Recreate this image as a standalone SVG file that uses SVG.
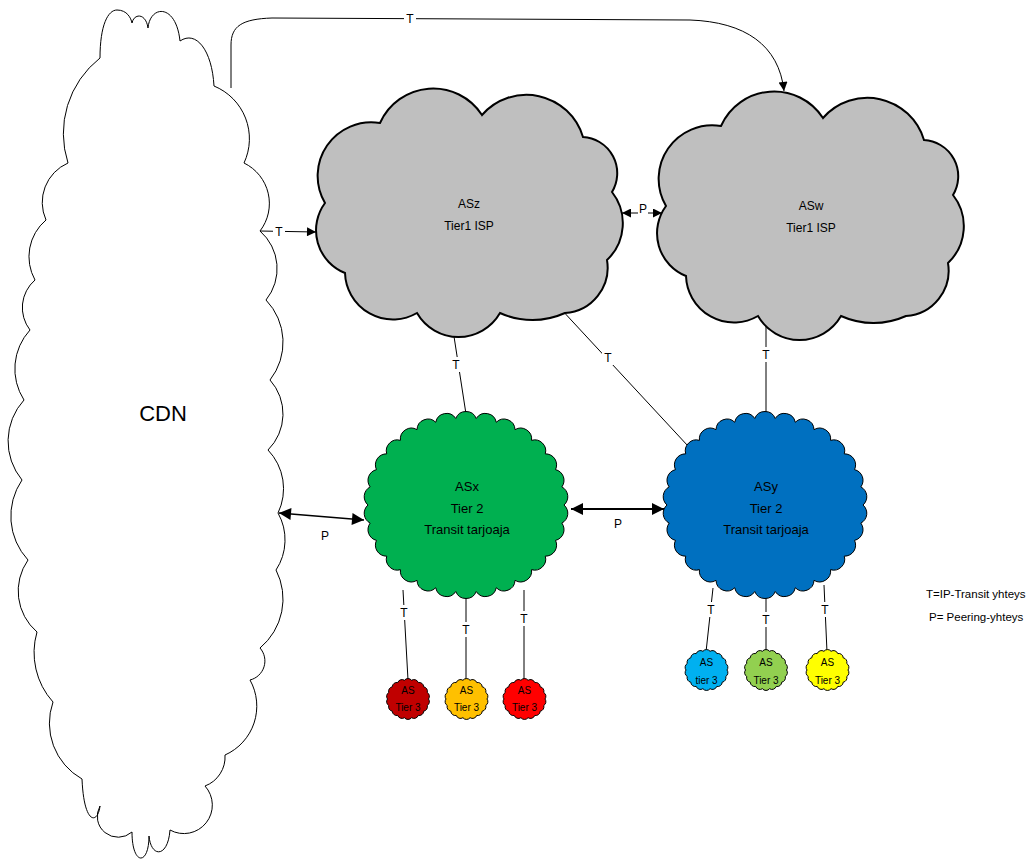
<svg xmlns="http://www.w3.org/2000/svg" xmlns:xlink="http://www.w3.org/1999/xlink" width="1030" height="862" viewBox="0 0 1030 862">
  <style>
    text { font-family: "Liberation Sans", Arial, sans-serif; fill: #000; }
    .lbl { font-size: 12px; text-anchor: middle; }
    .node { font-size: 13px; text-anchor: middle; }
    .tier1 { font-size: 12px; text-anchor: middle; }
    .small { font-size: 10px; text-anchor: middle; }
    .legend { font-size: 11.5px; }
    .wire { fill: none; stroke: #000; stroke-width: 1; }
    .bg { fill: #fff; }
    .outline { stroke: #000; stroke-width: 1; }
  </style>
  <defs>
    <!-- arrowheads -->
    <marker id="ah" viewBox="0 0 10 10" refX="10" refY="5" markerWidth="11" markerHeight="9" markerUnits="userSpaceOnUse" orient="auto-start-reverse">
      <path d="M0,0 L10,5 L0,10 Z" fill="#000"/>
    </marker>
    <marker id="ahL" viewBox="0 0 10 10" refX="10" refY="5" markerWidth="15" markerHeight="9" markerUnits="userSpaceOnUse" orient="auto-start-reverse">
      <path d="M0,0 L10,5 L0,10 Z" fill="#000"/>
    </marker>
    <marker id="ahB" viewBox="0 0 10 10" refX="10" refY="5" markerWidth="15" markerHeight="12" markerUnits="userSpaceOnUse" orient="auto-start-reverse">
      <path d="M0,0 L10,5 L0,10 Z" fill="#000"/>
    </marker>
    <!-- large tier-1 cloud outline -->
    <path id="bigCloud" d="M380,123 A58.2,58.2 0 0 1 482,115 A59,59 0 0 1 583,137 A36.3,36.3 0 0 1 612,192 A50.6,50.6 0 0 1 607,260 A45.6,45.6 0 0 1 565,313 A79,79 0 0 1 500,313 A47.9,47.9 0 0 1 417,313 A48,48 0 0 1 345,273 A46,46 0 0 1 325,203 A53.6,53.6 0 0 1 380,123 Z"/>
    <!-- scalloped tier-2 blob, centred on 0,0 -->
    <path id="blob" d="M98,0 A11,11 0 0 1 95.85,18.09 A11,11 0 0 1 89.52,35.38 A11,11 0 0 1 79.28,51.14 A11,11 0 0 1 65.57,64.65 A11,11 0 0 1 49,75.34 A11,11 0 0 1 30.28,82.75 A11,11 0 0 1 10.24,86.52 A11,11 0 0 1 -10.24,86.52 A11,11 0 0 1 -30.28,82.75 A11,11 0 0 1 -49,75.34 A11,11 0 0 1 -65.57,64.65 A11,11 0 0 1 -79.28,51.14 A11,11 0 0 1 -89.52,35.38 A11,11 0 0 1 -95.85,18.09 A11,11 0 0 1 -98,0 A11,11 0 0 1 -95.85,-18.09 A11,11 0 0 1 -89.52,-35.38 A11,11 0 0 1 -79.28,-51.14 A11,11 0 0 1 -65.57,-64.65 A11,11 0 0 1 -49,-75.34 A11,11 0 0 1 -30.28,-82.75 A11,11 0 0 1 -10.24,-86.52 A11,11 0 0 1 10.24,-86.52 A11,11 0 0 1 30.28,-82.75 A11,11 0 0 1 49,-75.34 A11,11 0 0 1 65.57,-64.65 A11,11 0 0 1 79.28,-51.14 A11,11 0 0 1 89.52,-35.38 A11,11 0 0 1 95.85,-18.09 A11,11 0 0 1 98,0 Z"/>
    <!-- small tier-3 blob, centred on 0,0 -->
    <path id="tiny" d="M20.5,0 A4.5,4.5 0 0 1 19.26,6.5 A4.5,4.5 0 0 1 15.7,12.21 A4.5,4.5 0 0 1 10.25,16.45 A4.5,4.5 0 0 1 3.56,18.71 A4.5,4.5 0 0 1 -3.56,18.71 A4.5,4.5 0 0 1 -10.25,16.45 A4.5,4.5 0 0 1 -15.7,12.21 A4.5,4.5 0 0 1 -19.26,6.5 A4.5,4.5 0 0 1 -20.5,0 A4.5,4.5 0 0 1 -19.26,-6.5 A4.5,4.5 0 0 1 -15.7,-12.21 A4.5,4.5 0 0 1 -10.25,-16.45 A4.5,4.5 0 0 1 -3.56,-18.71 A4.5,4.5 0 0 1 3.56,-18.71 A4.5,4.5 0 0 1 10.25,-16.45 A4.5,4.5 0 0 1 15.7,-12.21 A4.5,4.5 0 0 1 19.26,-6.5 A4.5,4.5 0 0 1 20.5,0 Z"/>
  </defs>

  <rect width="1030" height="862" fill="#fff"/>

  <!-- connectors -->
  <g id="connectors">
    <!-- CDN to ASw transit, routed over the top -->
    <path class="wire" d="M231,88 V45 C231,26 242,19 272,18 L690,20 C745,22 779,45 784,91" marker-end="url(#ahL)"/>
    <!-- CDN to ASz transit -->
    <path class="wire" d="M260,231 L316,232" marker-end="url(#ah)"/>
    <!-- ASz / ASw peering -->
    <path class="wire" d="M622,213 L662,213" marker-start="url(#ah)" marker-end="url(#ah)"/>
    <!-- CDN / ASx peering -->
    <path class="wire" style="stroke-width:1.5" d="M279,513 L364,520" marker-start="url(#ahB)" marker-end="url(#ahB)"/>
    <!-- ASx / ASy peering -->
    <path class="wire" style="stroke-width:2" d="M571,509 L664,509" marker-start="url(#ahB)" marker-end="url(#ahB)"/>
    <!-- tier-1 to tier-2 transit -->
    <path class="wire" d="M453,330 L466,414"/>
    <path class="wire" d="M560,308 L688,446"/>
    <path class="wire" d="M766,320 L766,412"/>
    <!-- ASx to tier-3 transit -->
    <path class="wire" d="M403,590 L408,680"/>
    <path class="wire" d="M466,595 L466,680"/>
    <path class="wire" d="M524,590 L524,680"/>
    <!-- ASy to tier-3 transit -->
    <path class="wire" d="M713,588 L706,652"/>
    <path class="wire" d="M766,595 L766,652"/>
    <path class="wire" d="M824,585 L827,652"/>

    <!-- link labels -->
    <rect class="bg" x="404" y="11" width="12" height="15"/><text class="lbl" x="410" y="23">T</text>
    <rect class="bg" x="273" y="225" width="12" height="14"/><text class="lbl" x="279" y="236">T</text>
    <rect class="bg" x="638" y="202" width="10" height="12"/><text class="lbl" x="643" y="213">P</text>
    <text class="lbl" x="325" y="540">P</text>
    <text class="lbl" x="618" y="528">P</text>
    <rect class="bg" x="451" y="357" width="11" height="15"/><text class="lbl" x="456" y="369">T</text>
    <rect class="bg" x="602" y="350" width="12" height="15"/><text class="lbl" x="608" y="362">T</text>
    <rect class="bg" x="760" y="347" width="12" height="15"/><text class="lbl" x="766" y="359">T</text>
    <rect class="bg" x="398" y="605" width="12" height="15"/><text class="lbl" x="404" y="617">T</text>
    <rect class="bg" x="460" y="622" width="12" height="15"/><text class="lbl" x="466" y="634">T</text>
    <rect class="bg" x="518" y="611" width="12" height="15"/><text class="lbl" x="524" y="623">T</text>
    <rect class="bg" x="705" y="602" width="12" height="15"/><text class="lbl" x="711" y="614">T</text>
    <rect class="bg" x="760" y="612" width="12" height="15"/><text class="lbl" x="766" y="624">T</text>
    <rect class="bg" x="819" y="602" width="12" height="15"/><text class="lbl" x="825" y="614">T</text>
  </g>

  <!-- content delivery network -->
  <g id="cdn">
    <path class="outline" fill="#fff" d="M100,58 C100,25 108,10 117,10 C127,10 131,18 132,23 C134,13 146,13 148,28 C150,5 176,3 180,41 C196,30 212,50 214,86 A57,57 0 0 1 244,163 A45,45 0 0 1 260,231 A49.9,49.9 0 0 1 266,300 A61,61 0 0 1 270,380 A50.8,50.8 0 0 1 268,450 A55.9,55.9 0 0 1 278,513 A54.8,54.8 0 0 1 276,570 A63.6,63.6 0 0 1 260,648 A19.6,19.6 0 0 1 250,680 A53.5,53.5 0 0 1 225,755 A31,31 0 0 1 205,786 A28.5,28.5 0 0 1 170,830 C168,858 151,858 149,836 C149,866 132,866 132,832 A20.9,20.9 0 0 1 100,806 C98,824 84,826 82,779 A64,64 0 0 1 53,702 A74,74 0 0 1 37,632 A54,54 0 0 1 28,560 A64.4,64.4 0 0 1 22,480 A61.1,61.1 0 0 1 24,400 A57.5,57.5 0 0 1 30,330 A36.5,36.5 0 0 1 35,280 A48,48 0 0 1 46,220 A43,43 0 0 1 68,163 A96,96 0 0 1 100,58 Z"/>
    <text x="163" y="421" font-size="22" text-anchor="middle">CDN</text>
  </g>

  <!-- tier-1 providers -->
  <g id="asz">
    <use xlink:href="#bigCloud" fill="#bfbfbf" stroke="#000" stroke-width="2"/>
    <text class="tier1" x="469" y="208">ASz</text>
    <text class="tier1" x="469" y="230">Tier1 ISP</text>
  </g>
  <g id="asw">
    <use xlink:href="#bigCloud" transform="translate(341,3)" fill="#bfbfbf" stroke="#000" stroke-width="2"/>
    <text class="tier1" x="811" y="210">ASw</text>
    <text class="tier1" x="811" y="232">Tier1 ISP</text>
  </g>

  <!-- tier-2 transit providers -->
  <g id="asx">
    <use xlink:href="#blob" transform="translate(466,505)" fill="#00b050" stroke="#000" stroke-width="1"/>
    <text class="node" x="467" y="491">ASx</text>
    <text class="node" x="467" y="513">Tier 2</text>
    <text class="node" x="467" y="534">Transit tarjoaja</text>
  </g>
  <g id="asy">
    <use xlink:href="#blob" transform="translate(765,505)" fill="#0070c0" stroke="#000" stroke-width="1"/>
    <text class="node" x="766" y="491">ASy</text>
    <text class="node" x="766" y="513">Tier 2</text>
    <text class="node" x="766" y="534">Transit tarjoaja</text>
  </g>

  <!-- tier-3 networks -->
  <g id="t3a">
    <use xlink:href="#tiny" transform="translate(408,699)" fill="#c00000" stroke="#000"/>
    <text class="small" x="408" y="694">AS</text>
    <text class="small" x="408" y="711">Tier 3</text>
  </g>
  <g id="t3b">
    <use xlink:href="#tiny" transform="translate(466.5,699)" fill="#ffc000" stroke="#000"/>
    <text class="small" x="466.5" y="694">AS</text>
    <text class="small" x="466.5" y="711">Tier 3</text>
  </g>
  <g id="t3c">
    <use xlink:href="#tiny" transform="translate(524.5,699)" fill="#ff0000" stroke="#000"/>
    <text class="small" x="524.5" y="694">AS</text>
    <text class="small" x="524.5" y="711">Tier 3</text>
  </g>
  <g id="t3d">
    <use xlink:href="#tiny" transform="translate(706.5,670)" fill="#00b0f0" stroke="#000"/>
    <text class="small" x="706.5" y="666">AS</text>
    <text class="small" x="706.5" y="684">tier 3</text>
  </g>
  <g id="t3e">
    <use xlink:href="#tiny" transform="translate(766,670)" fill="#92d050" stroke="#000"/>
    <text class="small" x="766" y="666">AS</text>
    <text class="small" x="766" y="684">Tier 3</text>
  </g>
  <g id="t3f">
    <use xlink:href="#tiny" transform="translate(827.5,670)" fill="#ffff00" stroke="#000"/>
    <text class="small" x="827.5" y="666">AS</text>
    <text class="small" x="827.5" y="684">Tier 3</text>
  </g>

  <!-- key -->
  <g id="legend">
    <text class="legend" x="926" y="598">T=IP-Transit yhteys</text>
    <text class="legend" x="929" y="621">P= Peering-yhteys</text>
  </g>
</svg>
